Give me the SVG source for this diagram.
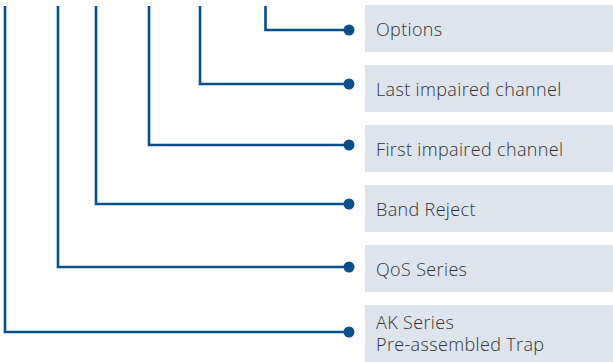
<svg xmlns="http://www.w3.org/2000/svg" width="613" height="362" viewBox="0 0 613 362">
<style>
.ln{fill:none;stroke:#0b4f8a;stroke-width:2.6;stroke-linejoin:miter;stroke-linecap:butt}
.dot{fill:#0b4f8a}
.box{fill:#dde4ee}
.t{font-family:"Open Sans","Noto Sans",sans-serif;font-size:18px;font-weight:300;letter-spacing:0.35px;fill:#333333}
</style>
<rect width="613" height="362" fill="#ffffff"/>
<g id="connectors">
<path class="ln" d="M265.5 6 V30 H349"/>
<path class="ln" d="M200 6 V84 H349"/>
<path class="ln" d="M149 6 V145 H349"/>
<path class="ln" d="M96 6 V204 H349"/>
<path class="ln" d="M58 6 V267 H349"/>
<path class="ln" d="M5 6 V332 H349"/>
<circle class="dot" cx="349" cy="30" r="5.5"/>
<circle class="dot" cx="349" cy="84" r="5.5"/>
<circle class="dot" cx="349" cy="145" r="5.5"/>
<circle class="dot" cx="349" cy="204" r="5.5"/>
<circle class="dot" cx="349" cy="267" r="5.5"/>
<circle class="dot" cx="349" cy="332" r="5.5"/>
</g>
<g id="options"><rect class="box" x="365" y="5" width="248" height="47"/><text class="t" x="376" y="36">Options</text></g>
<g id="last"><rect class="box" x="365" y="65" width="248" height="47"/><text class="t" x="376" y="96">Last impaired channel</text></g>
<g id="first"><rect class="box" x="365" y="125" width="248" height="47"/><text class="t" x="376" y="156">First impaired channel</text></g>
<g id="band"><rect class="box" x="365" y="185" width="248" height="47"/><text class="t" x="376" y="216">Band Reject</text></g>
<g id="qos"><rect class="box" x="365" y="245" width="248" height="47"/><text class="t" x="376" y="276">QoS Series</text></g>
<g id="ak"><rect class="box" x="365" y="305" width="248" height="57"/><text class="t" x="376" y="329">AK Series</text><text class="t" x="376" y="351">Pre-assembled Trap</text></g>
</svg>
